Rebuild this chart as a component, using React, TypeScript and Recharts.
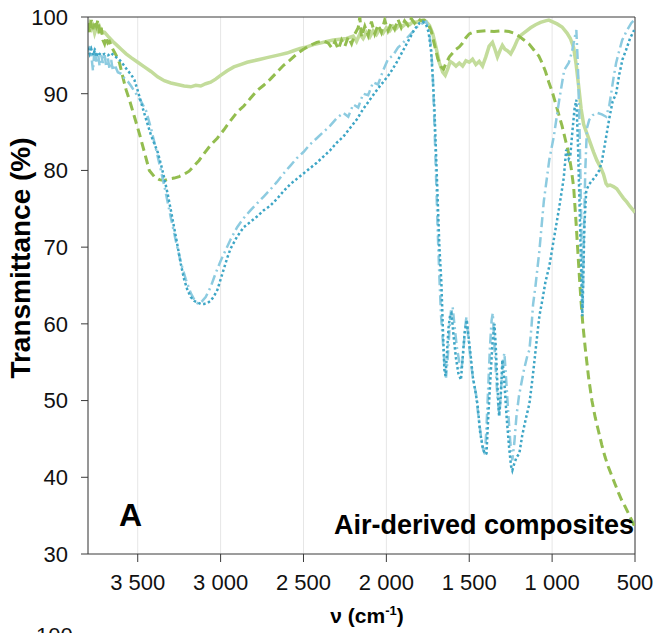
import React from 'react';
import { LineChart, Line, XAxis, YAxis, CartesianGrid, ReferenceLine } from 'recharts';

// wavenumber (cm-1) / transmittance (%) pairs
const lightGreenV = [3800,3790,3780,3770,3760,3750,3740,3730,3720,3700,3680,3650,3620,3600,3570,3540,3500,3460,3420,3380,3340,3300,3260,3220,3180,3150,3120,3090,3060,3030,3000,2960,2920,2880,2840,2800,2760,2720,2680,2640,2600,2560,2520,2480,2440,2400,2360,2320,2280,2240,2200,2180,2160,2140,2120,2100,2080,2060,2040,2020,2000,1980,1960,1940,1920,1900,1880,1860,1840,1820,1800,1780,1760,1740,1720,1700,1680,1660,1645,1630,1615,1600,1580,1560,1540,1520,1500,1480,1460,1440,1420,1400,1380,1360,1345,1330,1315,1300,1285,1270,1250,1230,1210,1190,1160,1130,1100,1070,1040,1020,1000,970,940,910,890,870,855,840,825,810,790,770,750,730,710,690,675,665,650,630,610,590,570,550,530,510,500];
const lightGreenT = [98.0,99.0,98.4,98.8,97.9,98.6,98.2,98.7,98.1,98.0,97.5,96.8,96.2,95.8,95.2,94.7,94.1,93.5,92.9,92.2,91.7,91.4,91.2,91.0,90.9,91.1,91.0,91.3,91.5,91.9,92.4,93.0,93.5,93.8,94.1,94.3,94.5,94.7,94.9,95.1,95.3,95.6,95.9,96.1,96.4,96.6,96.8,97.0,97.1,97.2,97.5,96.8,97.8,97.2,98.0,97.4,98.2,97.7,98.4,97.9,98.6,98.2,98.8,98.5,99.0,98.8,99.2,99.0,99.4,99.3,99.5,99.6,99.4,98.9,97.8,96.0,94.0,92.8,92.4,93.2,94.2,94.0,93.6,94.0,93.6,94.3,94.1,94.5,93.8,94.2,93.6,94.8,96.2,96.7,95.8,94.8,95.6,96.3,95.8,95.6,95.2,96.0,97.0,97.6,98.1,98.6,99.0,99.3,99.5,99.6,99.4,99.1,98.7,97.9,97.2,96.0,93.8,91.0,88.0,86.0,84.8,83.6,82.4,81.3,80.5,79.5,78.3,78.0,78.1,77.9,77.6,77.0,76.4,75.9,75.3,74.8,74.5];

const greenDashV = [3800,3790,3780,3770,3760,3750,3740,3730,3720,3710,3700,3690,3680,3670,3650,3630,3610,3590,3570,3550,3520,3490,3460,3430,3400,3370,3340,3310,3280,3250,3220,3190,3160,3130,3100,3060,3020,2980,2940,2900,2860,2820,2780,2740,2700,2660,2620,2580,2540,2500,2460,2420,2380,2350,2330,2310,2290,2270,2250,2230,2210,2190,2170,2160,2150,2130,2110,2090,2070,2050,2030,2010,1990,1970,1950,1930,1910,1890,1870,1850,1830,1810,1790,1770,1750,1730,1710,1690,1670,1655,1640,1620,1600,1580,1560,1540,1520,1500,1480,1450,1400,1350,1300,1260,1230,1200,1170,1140,1110,1080,1060,1040,1020,1000,980,960,940,920,900,885,870,855,845,835,825,815,800,780,760,740,720,700,680,660,640,620,600,580,560,540,520,500];
const greenDashT = [99.2,98.0,99.6,98.4,99.5,98.8,99.6,97.8,98.6,97.0,96.5,97.4,96.6,96.8,95.8,95.0,94.0,92.2,90.5,89.2,87.0,84.8,82.4,80.0,79.2,78.8,78.7,78.9,79.0,79.2,79.5,79.9,80.6,81.3,82.2,83.3,84.2,85.3,86.5,87.6,88.4,89.4,90.4,91.1,91.9,92.8,93.7,94.4,95.2,95.8,96.3,96.7,96.9,96.6,96.0,96.8,95.8,97.0,96.2,97.4,96.5,97.8,98.6,100.0,97.4,98.8,97.6,99.4,97.8,99.0,98.0,99.6,98.2,99.2,98.4,99.7,98.6,99.5,98.9,99.8,99.2,99.8,99.5,99.6,99.2,98.2,96.4,94.6,93.5,93.2,94.0,94.8,95.3,95.8,96.1,96.6,97.3,97.8,98.0,98.1,98.2,98.1,98.2,98.1,97.9,97.5,97.0,96.5,95.7,94.9,94.0,92.9,91.5,90.3,88.8,87.3,85.8,84.0,82.2,80.3,77.8,73.0,69.5,66.0,62.8,60.0,56.8,53.0,50.0,47.8,46.0,44.2,42.6,41.3,40.2,39.1,38.0,37.0,36.2,35.3,34.4,33.5];

const lightBlueV = [3800,3790,3780,3770,3760,3750,3740,3730,3720,3710,3700,3690,3680,3670,3660,3650,3640,3620,3600,3580,3560,3540,3510,3480,3450,3420,3390,3360,3330,3300,3270,3240,3210,3180,3150,3130,3110,3090,3060,3030,3000,2970,2940,2900,2860,2820,2780,2740,2700,2660,2620,2580,2540,2500,2460,2420,2380,2340,2300,2260,2230,2200,2170,2140,2110,2080,2050,2020,1990,1960,1930,1900,1870,1840,1810,1780,1760,1745,1730,1720,1710,1700,1690,1680,1670,1660,1650,1640,1630,1620,1610,1600,1590,1575,1560,1547,1535,1525,1517,1505,1490,1475,1460,1445,1430,1415,1405,1395,1385,1375,1365,1358,1350,1340,1330,1318,1308,1298,1288,1278,1265,1252,1240,1228,1215,1200,1186,1170,1150,1137,1125,1115,1100,1077,1050,1017,990,957,927,900,880,862,854,845,836,828,820,815,810,800,790,776,755,728,700,674,655,644,630,614,595,577,550,523,505];
const lightBlueT = [95.5,96.2,95.0,93.0,96.0,94.2,95.4,93.6,95.0,94.0,95.2,93.5,94.6,93.2,94.4,93.0,93.8,92.8,92.6,92.0,91.6,91.0,90.0,89.0,87.8,85.5,82.8,80.0,77.0,73.8,70.8,68.0,65.8,64.0,62.8,62.6,63.0,63.5,64.8,66.6,68.2,69.6,71.0,72.6,73.8,74.8,75.7,76.6,77.5,78.5,79.6,80.6,81.6,82.4,83.4,84.2,85.0,85.8,86.8,87.5,87.0,88.6,88.2,90.0,89.8,91.5,91.2,93.0,94.5,95.0,96.0,96.6,97.4,98.1,98.8,99.2,99.4,98.6,96.0,92.5,86.0,79.0,72.0,66.0,61.0,58.0,55.0,53.0,55.5,59.0,61.8,62.2,60.0,57.0,55.0,54.0,56.5,59.5,60.9,58.0,55.0,52.5,51.0,48.0,45.5,43.5,43.0,47.0,52.0,57.0,60.5,61.4,58.0,54.0,50.5,48.0,51.5,55.0,56.2,53.0,48.5,44.5,42.2,44.5,48.0,50.6,52.2,54.0,55.8,56.6,59.5,62.5,65.0,69.5,76.0,81.4,84.4,89.2,93.1,94.0,95.5,97.5,98.3,94.0,87.0,78.0,68.0,62.0,70.0,80.0,85.5,86.6,87.2,87.5,87.3,87.0,88.5,90.0,92.0,94.0,95.6,97.0,98.2,99.2,99.6];

const blueDotV = [3800,3790,3780,3770,3760,3750,3740,3720,3700,3680,3660,3640,3620,3600,3580,3560,3540,3520,3500,3480,3460,3440,3420,3400,3380,3360,3340,3320,3300,3280,3260,3240,3220,3200,3180,3160,3140,3120,3100,3080,3060,3040,3020,3000,2980,2960,2940,2920,2900,2860,2820,2780,2740,2700,2660,2620,2580,2540,2500,2460,2420,2380,2340,2300,2260,2220,2180,2140,2100,2060,2020,1980,1940,1900,1860,1830,1800,1780,1760,1745,1730,1720,1710,1700,1690,1680,1668,1660,1650,1643,1635,1625,1615,1607,1595,1580,1565,1550,1540,1528,1515,1505,1492,1478,1465,1450,1435,1420,1405,1396,1385,1372,1360,1348,1340,1330,1320,1310,1300,1290,1275,1260,1248,1240,1228,1215,1198,1180,1160,1137,1115,1095,1077,1059,1040,1017,990,957,930,915,900,890,878,865,854,845,835,826,818,812,805,794,776,758,736,716,700,685,674,655,635,614,595,575,554,530,505];
const blueDotT = [96.0,95.2,95.8,95.0,95.6,94.8,95.4,95.0,95.2,95.0,95.3,94.9,94.6,94.2,93.6,93.0,92.5,91.8,90.4,88.9,87.4,86.0,84.6,83.5,82.4,80.8,79.0,77.0,74.8,72.5,70.2,67.8,65.8,64.4,63.5,63.0,62.8,62.6,62.6,62.7,63.0,63.6,64.4,65.8,67.2,68.6,69.8,70.6,71.4,72.6,73.3,74.0,74.8,75.4,76.3,77.3,78.2,78.9,79.6,80.3,81.0,81.8,82.6,83.6,84.4,85.5,86.6,88.0,89.2,90.4,91.5,92.6,94.0,95.6,97.2,98.4,99.2,99.4,99.0,98.0,95.5,92.0,88.0,82.0,76.0,70.0,65.3,60.0,54.0,53.2,56.0,59.5,61.2,61.4,58.5,55.5,53.5,52.7,55.5,58.8,60.5,58.5,56.0,53.0,51.5,49.5,46.0,44.0,43.0,43.1,48.0,53.0,57.5,60.0,57.0,52.0,48.0,50.5,55.3,53.0,48.0,44.0,41.5,40.9,41.8,42.6,43.1,45.5,47.5,49.6,53.5,57.5,61.0,63.1,65.5,67.5,71.0,75.2,79.0,82.7,81.5,82.0,85.0,88.0,89.2,84.0,76.0,68.0,61.0,66.0,73.0,77.4,78.2,78.7,79.3,80.0,81.2,83.0,84.4,86.8,89.0,90.0,92.5,94.5,95.7,97.2,98.3];

const xTicks = [3500, 3000, 2500, 2000, 1500, 1000, 500];
const yTicks = [30, 40, 50, 60, 70, 80, 90, 100];

const toRows = (vs: number[], ts: number[]) => vs.map((v, i) => ({ v, t: ts[i] }));

const fmtX = (n: number) =>
  n >= 1000 ? `${Math.floor(n / 1000)} ${String(n % 1000).padStart(3, '0')}` : `${n}`;

const FONT = '"Liberation Sans", Arial, sans-serif';
const AXIS = '#3a3a3a';

export default function App() {
  return (
    <div style={{ position: 'fixed', left: 0, top: 0, width: 656, height: 633, overflow: 'hidden', fontFamily: FONT, background: '#fff' }}>
      <LineChart width={656} height={633} margin={{ top: 17, right: 21, bottom: 0, left: 0 }}>
        <CartesianGrid vertical horizontal={false} stroke="#e6e6e6" />
        <XAxis
          dataKey="v"
          type="number"
          domain={[500, 3800]}
          reversed
          allowDataOverflow
          ticks={xTicks}
          tickFormatter={fmtX}
          height={79}
          tickSize={8}
          tickMargin={12}
          stroke={AXIS}
          tick={{ fill: '#111', fontSize: 22, fontFamily: FONT }}
        />
        <YAxis
          type="number"
          domain={[30, 100]}
          allowDataOverflow
          ticks={yTicks}
          width={88}
          tickSize={7}
          tickMargin={13}
          stroke={AXIS}
          tick={{ fill: '#111', fontSize: 22, fontFamily: FONT }}
        />
        <ReferenceLine y={100} stroke={AXIS} strokeWidth={1} />
        <ReferenceLine x={500} stroke={AXIS} strokeWidth={1} />
        <Line data={toRows(lightGreenV, lightGreenT)} dataKey="t" stroke="#c3dc9b" strokeWidth={3.5} dot={false} activeDot={false} isAnimationActive={false} />
        <Line data={toRows(greenDashV, greenDashT)} dataKey="t" stroke="#93bd4f" strokeWidth={3} strokeDasharray="9 5" dot={false} activeDot={false} isAnimationActive={false} />
        <Line data={toRows(lightBlueV, lightBlueT)} dataKey="t" stroke="#8dcbe0" strokeWidth={2.5} strokeDasharray="10 4 2 4" dot={false} activeDot={false} isAnimationActive={false} />
        <Line data={toRows(blueDotV, blueDotT)} dataKey="t" stroke="#3ea6c6" strokeWidth={2.5} strokeDasharray="2.5 2.5" dot={false} activeDot={false} isAnimationActive={false} />
      </LineChart>
      <div style={{ position: 'absolute', left: 119, top: 497, fontSize: 32, fontWeight: 700, color: '#000' }}>A</div>
      <div style={{ position: 'absolute', right: 22, top: 510, fontSize: 27, fontWeight: 700, color: '#000', whiteSpace: 'nowrap' }}>Air-derived composites</div>
      <div style={{ position: 'absolute', left: 367, top: 603, transform: 'translateX(-50%)', fontSize: 21, fontWeight: 700, color: '#000', whiteSpace: 'nowrap' }}>
        ν (cm<sup style={{ fontSize: 13 }}>-1</sup>)
      </div>
      <div style={{ position: 'absolute', left: 21, top: 258, transform: 'translate(-50%, -50%) rotate(-90deg)', fontSize: 28, fontWeight: 700, color: '#000', whiteSpace: 'nowrap' }}>
        Transmittance (%)
      </div>
      <div style={{ position: 'absolute', left: 36, top: 623, fontSize: 22, color: '#111' }}>100</div>
    </div>
  );
}
